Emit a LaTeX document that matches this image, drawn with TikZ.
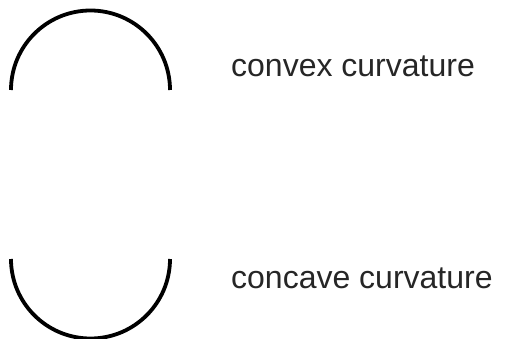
\documentclass[tikz,border=0pt]{standalone}
\usepackage{fontspec}
\setmainfont{Liberation Sans}
\usepackage{tikz}
\usetikzlibrary{positioning}
\tikzset{
  curve/.style={draw,line width=3.8pt,black},
  caption/.style={anchor=base west,inner sep=0pt,font=\fontsize{32}{38}\selectfont,text=black!85}
}

\begin{document}
\begin{tikzpicture}[x=1pt,y=1pt]
  \useasboundingbox (0,0) rectangle (509,338);
  % Arcs
  \coordinate (cvx) at (90.5,248);
  \coordinate (ccv) at (90.5,79);
  \draw[curve] ([xshift=-79.5pt]cvx) arc[start angle=180,end angle=0,radius=79.5];
  \draw[curve] ([xshift=-79.5pt]ccv) arc[start angle=180,end angle=360,radius=79.5];

  % Labels
  \node[caption] (convex) at (231,261) {convex curvature};
  \node[caption] (concave) at (231,50) {concave curvature};
\end{tikzpicture}
\end{document}
